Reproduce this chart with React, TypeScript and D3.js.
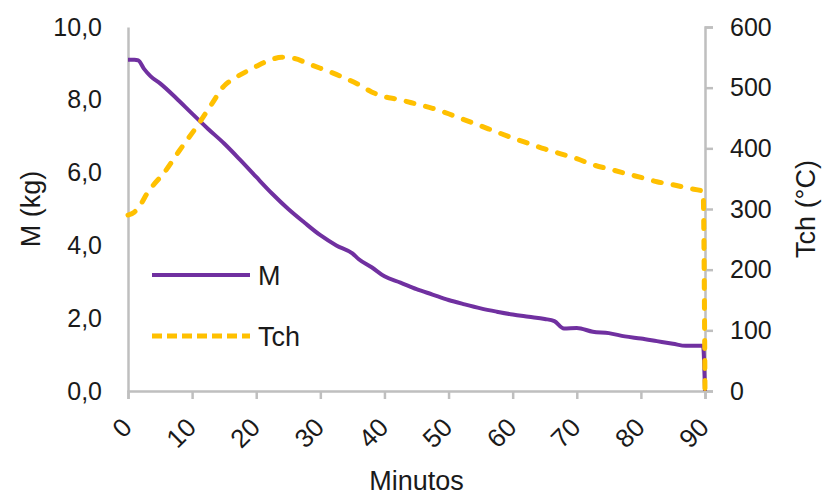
import React, { useRef, useEffect } from 'react';
import * as d3 from 'd3';

// minutes / mass (kg)
const massTime = [0, 1, 1.6, 2.5, 3.5, 5, 7.5, 10, 12.5, 15, 17.5, 20, 22.5, 25, 27.5, 30, 32.5, 35, 36, 38, 40, 42.5, 45, 47.5, 50, 52.5, 55, 57.5, 60, 62.5, 65, 66.5, 68, 70, 72.5, 75, 77.5, 80, 82.5, 85, 87, 89.7, 90];
const massValues = [9.1, 9.1, 9.08, 8.85, 8.65, 8.45, 8.05, 7.62, 7.2, 6.8, 6.35, 5.88, 5.42, 5.0, 4.63, 4.28, 4.0, 3.78, 3.62, 3.4, 3.15, 2.98, 2.8, 2.65, 2.5, 2.38, 2.27, 2.18, 2.1, 2.04, 1.98, 1.92, 1.72, 1.73, 1.63, 1.59, 1.5, 1.44, 1.37, 1.3, 1.24, 1.24, 0];

// minutes / chamber temperature (°C)
const tempTime = [0, 1, 2, 3, 4, 5.5, 8, 11, 13, 15, 16.5, 18, 20, 22, 24, 26, 28, 30, 32, 34, 36, 38, 40, 42, 45, 47.5, 50, 52.5, 55, 57.5, 60, 62.5, 65, 67.5, 70, 72.5, 75, 77.5, 80, 82.5, 85, 87.5, 89.7, 90];
const tempValues = [290, 295, 308, 326, 340, 358, 396, 440, 472, 503, 515, 524, 535, 545, 550, 548, 540, 532, 524, 515, 505, 493, 485, 481, 473, 466, 457, 447, 437, 427, 417, 408, 399, 391, 383, 373, 366, 359, 352, 345, 340, 334, 329, 0];

const xTicks = [0, 10, 20, 30, 40, 50, 60, 70, 80, 90];
const leftTicks = [0, 2, 4, 6, 8, 10];
const rightTicks = [0, 100, 200, 300, 400, 500, 600];

const PURPLE = '#7030A0';
const YELLOW = '#FFC000';
const GRID = '#BFBFBF';
const TEXT = '#1a1a1a';
const FONT = '"Liberation Sans", Arial, sans-serif';

const App = () => {
  const svgRef = useRef<SVGSVGElement>(null);

  useEffect(() => {
    const svg = d3.select(svgRef.current);
    svg.selectAll('*').remove();

    const left = 128, right = 705, top = 27, bottom = 391;

    const x = d3.scaleLinear().domain([0, 90]).range([left, right]);
    const yM = d3.scaleLinear().domain([0, 10]).range([bottom, top]);
    const yT = d3.scaleLinear().domain([0, 600]).range([bottom, top]);

    // left axis: line only, no ticks
    const gl = svg.append('g')
      .attr('transform', `translate(${left},0)`)
      .call(d3.axisLeft(yM).tickValues(leftTicks).tickSize(0).tickPadding(26)
        .tickFormat(d => d3.format('.1f')(d as number).replace('.', ',')));
    gl.select('.domain').attr('stroke', GRID).attr('stroke-width', 2.5);
    gl.selectAll('text').attr('font-size', 25).attr('font-family', FONT).attr('fill', TEXT);

    // right axis
    const gr = svg.append('g')
      .attr('transform', `translate(${right},0)`)
      .call(d3.axisRight(yT).tickValues(rightTicks).tickSizeOuter(0).tickSize(8).tickPadding(17));
    gr.select('.domain').attr('stroke', GRID).attr('stroke-width', 2.5);
    gr.selectAll('line').attr('stroke', GRID).attr('stroke-width', 2.5);
    gr.selectAll('text').attr('font-size', 25).attr('font-family', FONT).attr('fill', TEXT);

    // bottom axis
    const gb = svg.append('g')
      .attr('transform', `translate(0,${bottom})`)
      .call(d3.axisBottom(x).tickValues(xTicks).tickSizeOuter(0).tickSize(8));
    gb.select('.domain').attr('stroke', GRID).attr('stroke-width', 2.5);
    gb.selectAll('line').attr('stroke', GRID).attr('stroke-width', 2.5);
    gb.selectAll('text')
      .attr('font-size', 26).attr('font-family', FONT).attr('fill', TEXT)
      .attr('text-anchor', 'end')
      .attr('y', 0).attr('dy', 0)
      .attr('transform', 'translate(5,38) rotate(-45)');

    const massLine = d3.line<number>()
      .x((_, i) => x(massTime[i]))
      .y(d => yM(d))
      .curve(d3.curveMonotoneX);

    const tempLine = d3.line<number>()
      .x((_, i) => x(tempTime[i]))
      .y(d => yT(d))
      .curve(d3.curveMonotoneX);

    svg.append('path')
      .attr('d', massLine(massValues))
      .attr('fill', 'none')
      .attr('stroke', PURPLE)
      .attr('stroke-width', 4)
      .attr('stroke-linejoin', 'round');

    svg.append('path')
      .attr('d', tempLine(tempValues))
      .attr('fill', 'none')
      .attr('stroke', YELLOW)
      .attr('stroke-width', 5)
      .attr('stroke-dasharray', '8,12')
      .attr('stroke-linecap', 'round');

    // axis titles
    svg.append('text')
      .attr('transform', `translate(40,${(top + bottom) / 2}) rotate(-90)`)
      .attr('text-anchor', 'middle')
      .attr('font-size', 27).attr('font-family', FONT).attr('fill', TEXT)
      .text('M (kg)');

    svg.append('text')
      .attr('transform', `translate(815,${(top + bottom) / 2}) rotate(-90)`)
      .attr('text-anchor', 'middle')
      .attr('font-size', 27).attr('font-family', FONT).attr('fill', TEXT)
      .text('Tch (°C)');

    svg.append('text')
      .attr('x', (left + right) / 2)
      .attr('y', 490)
      .attr('text-anchor', 'middle')
      .attr('font-size', 27).attr('font-family', FONT).attr('fill', TEXT)
      .text('Minutos');

    // legend
    const legend = [
      { label: 'M', color: PURPLE, width: 4, dash: null as string | null },
      { label: 'Tch', color: YELLOW, width: 5, dash: '10,5' },
    ];
    const lg = svg.append('g')
      .selectAll('g')
      .data(legend)
      .enter().append('g')
      .attr('transform', (_, i) => `translate(152,${275 + i * 61})`);

    lg.append('line')
      .attr('x1', 0).attr('x2', 98)
      .attr('stroke', d => d.color)
      .attr('stroke-width', d => d.width)
      .attr('stroke-dasharray', d => d.dash);

    lg.append('text')
      .attr('x', 106)
      .attr('y', 10)
      .attr('font-size', 27).attr('font-family', FONT).attr('fill', TEXT)
      .text(d => d.label);
  }, []);

  return (
    <svg
      ref={svgRef}
      width={825}
      height={495}
      style={{ position: 'absolute', left: 0, top: 0, background: '#fff' }}
    />
  );
};

export default App;
